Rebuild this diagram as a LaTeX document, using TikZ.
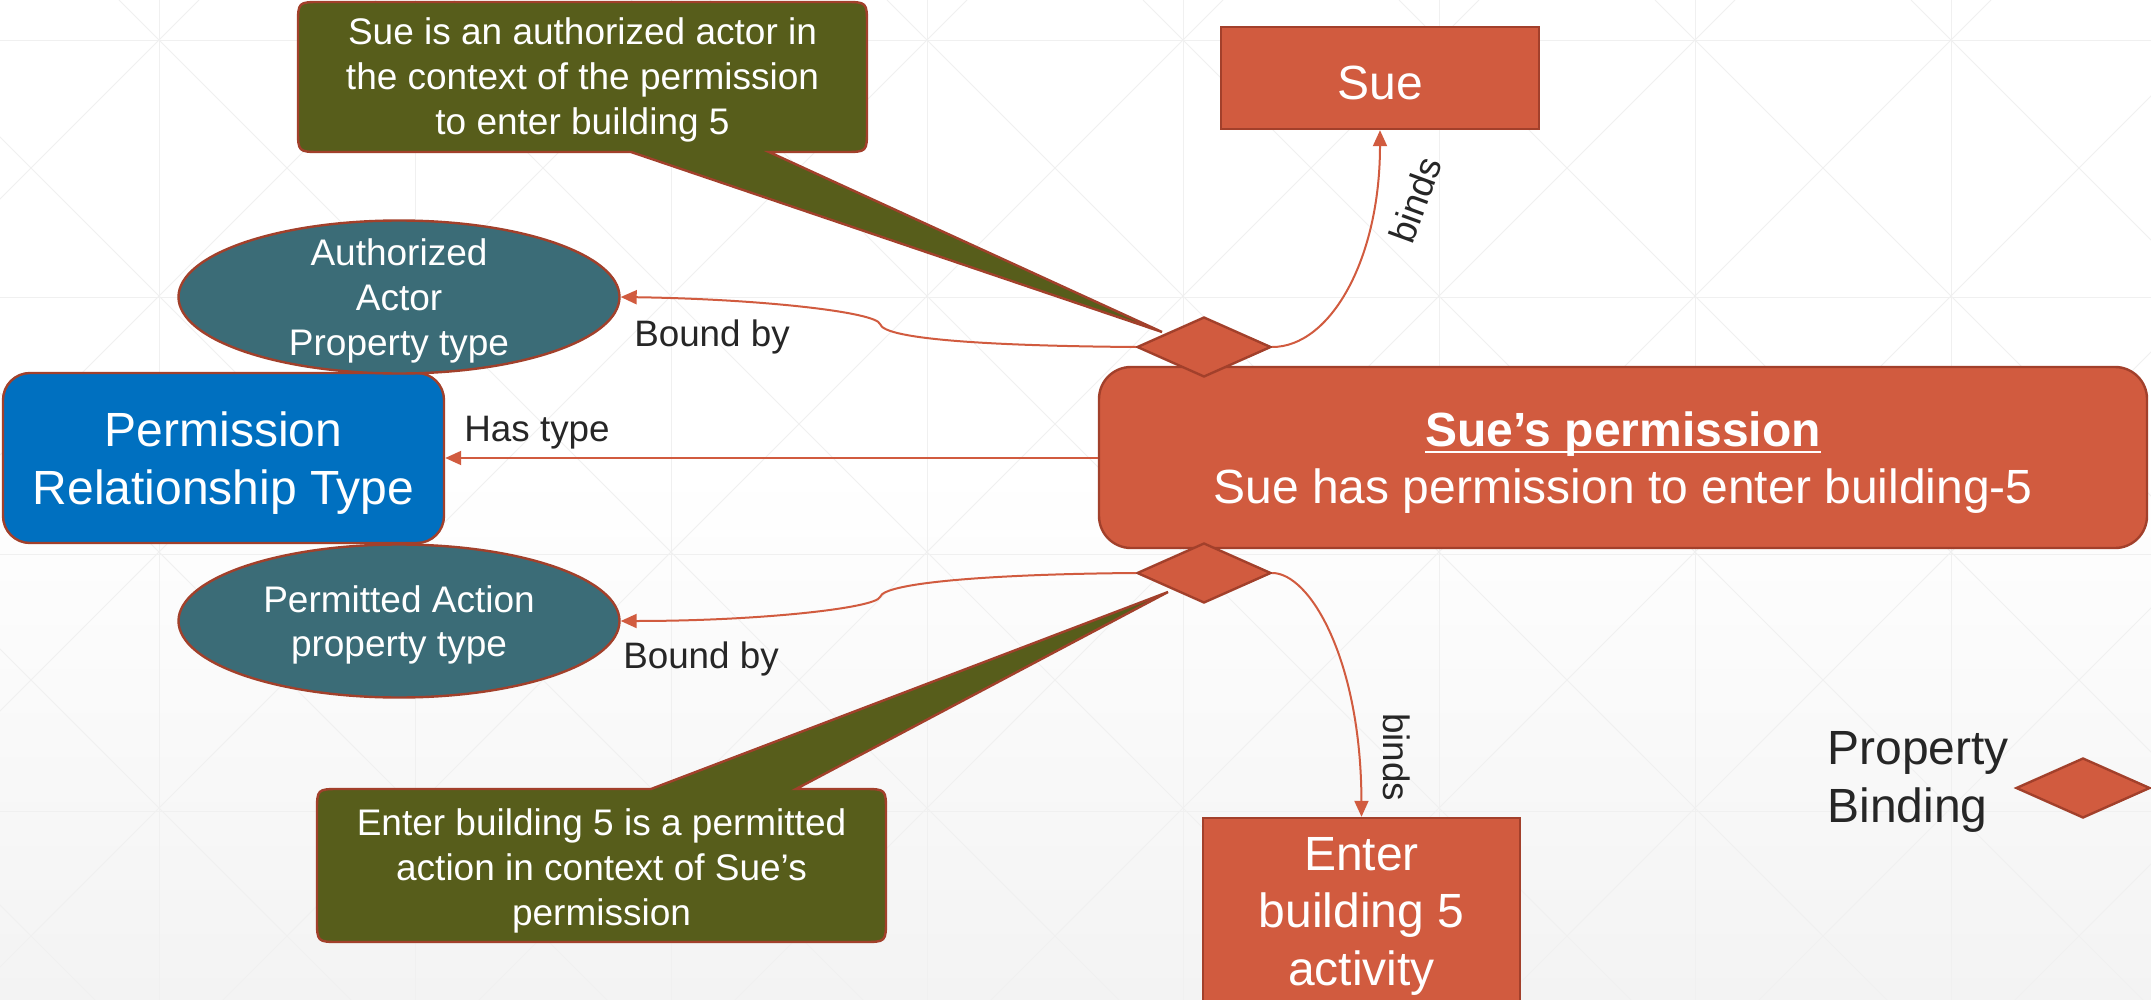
\documentclass[tikz,border=0pt]{standalone}
\usepackage{fontspec}
\setmainfont{Liberation Sans}
\usetikzlibrary{shapes.geometric,arrows.meta}

\definecolor{brick}{HTML}{D15B3F}
\definecolor{brickline}{HTML}{A2402B}
\definecolor{ptypeteal}{HTML}{3B6C77}
\definecolor{relblue}{HTML}{0070C0}
\definecolor{noteolive}{HTML}{575D1B}
\definecolor{labelgray}{HTML}{262626}
\definecolor{gridgray}{HTML}{F0F0F0}
\definecolor{floorgray}{HTML}{F3F3F3}

\newcommand\bigfont{\fontsize{24}{28.75}\selectfont}
\newcommand\midfont{\fontsize{18.5}{22.3}\selectfont}
% underline that sits just under the baseline, through the descenders
\newcommand\ulbar[1]{\setbox0=\hbox{#1}\rlap{\copy0}\rule[-3.6pt]{\wd0}{1.4pt}}

\begin{document}
\begin{tikzpicture}[x=0.5pt,y=-0.5pt,
  gridline/.style={draw=gridgray, line width=0.45pt},
  box/.style={draw=brickline, line width=1.2pt, fill=brick, inner sep=0pt},
  boxtext/.style={text=white, font=\bigfont, align=center, inner sep=0pt, yshift=-2.5pt},
  ptype/.style={ellipse, draw=brickline, line width=1.2pt, fill=ptypeteal,
    minimum width=220.5pt, minimum height=76.5pt, inner sep=0pt},
  ptext/.style={text=white, font=\midfont, align=center, inner sep=0pt, yshift=-2pt},
  bind/.style={diamond, draw=brickline, line width=1.2pt, fill=brick,
    minimum width=67pt, minimum height=30pt, inner sep=0pt},
  conn/.style={draw=brick, line width=1pt, -{Triangle[length=8pt,width=7pt]}},
  lbl/.style={text=labelgray, font=\fontsize{18.4}{22}\selectfont, inner sep=0pt},
  note/.style={draw=brickline, line width=1.2pt, fill=noteolive, line join=miter},
  notetext/.style={text=white, font=\midfont, align=center, inner sep=0pt}]

\useasboundingbox (0,0) rectangle (2151,1000);
\clip (0,0) rectangle (2151,1000);

% background with a soft grey floor and a faint triangular grid
\fill[white] (0,0) rectangle (2151,1000);
\shade[top color=white, bottom color=floorgray] (0,470) rectangle (2151,1000);
\foreach \gx in {159,415,...,2000} \draw[gridline] (\gx,0) -- (\gx,1000);
\foreach \gy in {40,297,554,811} \draw[gridline] (0,\gy) -- (2151,\gy);
\foreach \k in {-4,...,8} \draw[gridline] (119+256*\k,0) -- (1119+256*\k,1000);
\foreach \k in {0,...,12} \draw[gridline] (199+256*\k,0) -- (-801+256*\k,1000);

% main nodes
\node[box, minimum width=159pt, minimum height=51pt,
  label={[boxtext]center:Sue}] (sue) at (1380,78) {};
\node[box, rounded corners=16pt, minimum width=524pt, minimum height=90.5pt,
  label={[boxtext]center:\textbf{\ulbar{Sue’s permission}}\\Sue has permission to enter building-5}]
  (perm) at (1623,457.5) {};
\node[box, minimum width=158.5pt, minimum height=93pt,
  label={[boxtext]center:Enter\\building 5\\activity}] (act) at (1361.5,911) {};
\node[box, fill=relblue, rounded corners=13.5pt, minimum width=220.5pt, minimum height=85pt,
  label={[boxtext]center:Permission\\Relationship Type}] (prt) at (223.5,458) {};
\node[ptype, label={[ptext]center:Authorized\\Actor\\Property type}] (aap) at (399,297) {};
\node[ptype, label={[ptext]center:Permitted Action\\property type}] (pap) at (399,621) {};

% property bindings
\node[bind] (d1) at (1204,347) {};
\node[bind] (d2) at (1204,573) {};
\node[bind] (key) at (2083,788) {};
\node[lbl, font=\bigfont, align=left, anchor=west] (keytext) at (1827,782) {Property\\Binding};

% connectors
\draw[conn] (perm.west) -- ++(-328,0) |- (prt.east);
\draw[conn] (d1.east) .. controls (1330,347) and (1380,260) .. (sue.south);
\draw[conn] (d2.east) .. controls (1310,573) and (1361,660) .. (act.north);
\draw[conn] (d1.west) .. controls (1000,346) and (884,340) .. (880,324)
  .. controls (876,312) and (760,299) .. (aap.east);
\draw[conn] (d2.west) .. controls (1000,574) and (884,582) .. (880,597)
  .. controls (876,608) and (760,621) .. (pap.east);

% connector labels
\node[lbl] (bb1) at (712,337) {Bound by};
\node[lbl] (bb2) at (701,659) {Bound by};
\node[lbl] (ht) at (537,433) {Has type};
\node[lbl, rotate=70] (bs1) at (1415,200) {binds};
\node[lbl, rotate=-90] (bs2) at (1397,757) {binds};

% callouts
\draw[note] (631,152) -- (1162,332) -- (769,152) -- (844,152)
  .. controls (867,152) .. (867,129) -- (867,25) .. controls (867,2) .. (844,2)
  -- (321,2) .. controls (298,2) .. (298,25) -- (298,129)
  .. controls (298,152) .. (321,152) -- cycle;
\node[notetext] (n1) at (582.5,80)
  {Sue is an authorized actor in\\the context of the permission\\to enter building 5};

\draw[note] (651,789) -- (1168,592) -- (796,789) -- (863,789)
  .. controls (886,789) .. (886,812) -- (886,919) .. controls (886,942) .. (863,942)
  -- (340,942) .. controls (317,942) .. (317,919) -- (317,812)
  .. controls (317,789) .. (340,789) -- cycle;
\node[notetext] (n2) at (601.5,871)
  {Enter building 5 is a permitted\\action in context of Sue’s\\permission};
\end{tikzpicture}
\end{document}
